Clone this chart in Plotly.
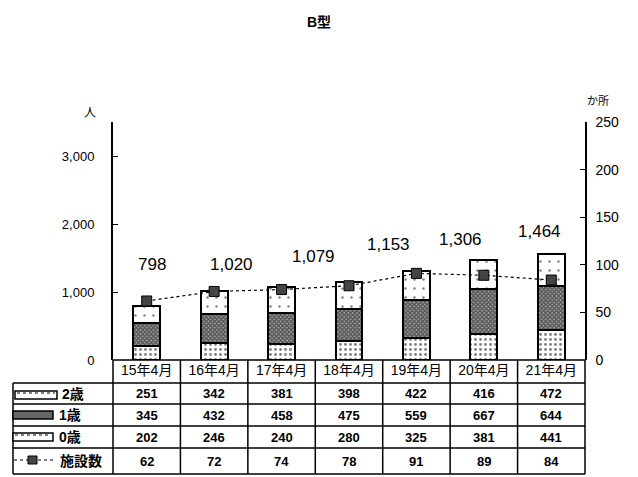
import plotly.graph_objects as go

categories = ["15年4月", "16年4月", "17年4月", "18年4月", "19年4月", "20年4月", "21年4月"]
age0 = [202, 246, 240, 280, 325, 381, 441]
age1 = [345, 432, 458, 475, 559, 667, 644]
age2 = [251, 342, 381, 398, 422, 416, 472]
facilities = [62, 72, 74, 78, 91, 89, 84]
left_ticks = [0, 1000, 2000, 3000]
left_ticktext = ["0", "1,000", "2,000", "3,000"]
right_ticks = [0, 50, 100, 150, 200, 250]

totals = [a + b + c for a, b, c in zip(age0, age1, age2)]
# total labels shown in reference (first six), with their drawn positions
label_pos_x = [0.08, 1.25, 2.47, 3.58, 4.66, 5.83]
label_pos_y = [1400, 1410, 1515, 1705, 1765, 1885]

W, H = 638, 477
OFF = 8  # page body margin offset
L, R, T, B = 113, 585, 122, 360  # target screen pixels of plot area
FONT = "Liberation Sans, Noto Sans CJK JP, sans-serif"


def px(x):
    return (x - L) / (R - L)


def py(y):
    return (B - y) / (B - T)


xs = list(range(len(categories)))
fig = go.Figure()
fig.add_trace(go.Bar(x=xs, y=age0, name="0歳", width=0.4,
                     marker=dict(color="white", line=dict(color="black", width=2),
                                 pattern=dict(shape=".", size=5, solidity=0.25, fgcolor="black", bgcolor="white"))))
fig.add_trace(go.Bar(x=xs, y=age1, name="1歳", width=0.4,
                     marker=dict(color="white", line=dict(color="black", width=2),
                                 pattern=dict(shape="x", size=3, solidity=0.7, fgcolor="black", bgcolor="#aaa"))))
fig.add_trace(go.Bar(x=xs, y=age2, name="2歳", width=0.4,
                     marker=dict(color="white", line=dict(color="black", width=2),
                                 pattern=dict(shape=".", size=9, solidity=0.06, fgcolor="black", bgcolor="white"))))
fig.add_trace(go.Scatter(x=xs, y=facilities, name="施設数", yaxis="y2", mode="lines+markers",
                         line=dict(color="black", width=1.2, dash="dot"),
                         marker=dict(symbol="square", size=10, color="#444", line=dict(color="black", width=1))))

annotations = []
for i in range(6):
    annotations.append(dict(x=label_pos_x[i], y=label_pos_y[i], xref="x", yref="y",
                            xanchor="center", yanchor="middle",
                            text=f"{totals[i]:,}", showarrow=False,
                            font=dict(size=17, color="black", family=FONT)))

# table
rows = [age2, age1, age0, facilities]
row_tops = [383, 404, 426, 448, 474]
for r, vals in enumerate(rows):
    yc = (row_tops[r] + row_tops[r + 1]) / 2
    for i, v in enumerate(vals):
        annotations.append(dict(x=i, y=py(yc), xref="x", yref="paper", text=f"<b>{v}</b>", showarrow=False,
                                xanchor="center", yanchor="middle",
                                font=dict(size=13, color="black", family=FONT)))

row_labels = ["2歳", "1歳", "0歳", "施設数"]
label_x = [60, 57, 57, 58]
for r, t in enumerate(row_labels):
    yc = (row_tops[r] + row_tops[r + 1]) / 2
    annotations.append(dict(x=px(label_x[r]), y=py(yc), xref="paper", yref="paper", text=f"<b>{t}</b>",
                            showarrow=False, xanchor="left", yanchor="middle",
                            font=dict(size=14, color="black", family=FONT)))

annotations += [
    dict(x=px(319), y=py(22), xref="paper", yref="paper", xanchor="center", yanchor="middle",
         text="<b>B型</b>", showarrow=False, font=dict(size=14, color="black", family=FONT)),
    dict(x=px(90), y=py(113), xref="paper", yref="paper", text="人", showarrow=False,
         xanchor="center", yanchor="middle", font=dict(size=12, color="black", family=FONT)),
    dict(x=px(598), y=py(100), xref="paper", yref="paper", text="か所", showarrow=False,
         xanchor="center", yanchor="middle", font=dict(size=11, color="black", family=FONT)),
]

shapes = []
line = dict(color="black", width=1.5)
# horizontal lines of table
shapes.append(dict(type="line", xref="paper", yref="paper", x0=px(L), x1=px(R), y0=py(B), y1=py(B), line=line))
for yv in row_tops:
    shapes.append(dict(type="line", xref="paper", yref="paper", x0=px(13), x1=px(R), y0=py(yv), y1=py(yv), line=line))
# vertical lines
shapes.append(dict(type="line", xref="paper", yref="paper", x0=px(13), x1=px(13), y0=py(383), y1=py(474), line=line))
shapes.append(dict(type="line", xref="paper", yref="paper", x0=px(L), x1=px(L), y0=py(B), y1=py(474), line=line))
shapes.append(dict(type="line", xref="paper", yref="paper", x0=px(R), x1=px(R), y0=py(B), y1=py(474), line=line))
for i in range(len(categories) - 1):
    shapes.append(dict(type="line", xref="x", yref="paper", x0=i + 0.5, x1=i + 0.5, y0=py(B), y1=py(474), line=line))

# legend symbols in table
shapes.append(dict(type="rect", xref="paper", yref="paper", x0=px(15), x1=px(57), y0=py(399), y1=py(391),
                   line=dict(color="black", width=1.5), fillcolor="white"))
shapes.append(dict(type="line", xref="paper", yref="paper", x0=px(17), x1=px(55), y0=py(393), y1=py(393),
                   line=dict(color="black", width=1, dash="dot")))
shapes.append(dict(type="rect", xref="paper", yref="paper", x0=px(13), x1=px(53), y0=py(419), y1=py(411),
                   line=dict(color="black", width=1.5), fillcolor="#666"))
shapes.append(dict(type="rect", xref="paper", yref="paper", x0=px(13), x1=px(53), y0=py(441), y1=py(433),
                   line=dict(color="black", width=1.5), fillcolor="white"))
shapes.append(dict(type="line", xref="paper", yref="paper", x0=px(15), x1=px(51), y0=py(435), y1=py(435),
                   line=dict(color="black", width=1, dash="dot")))
shapes.append(dict(type="line", xref="paper", yref="paper", x0=px(14), x1=px(53), y0=py(460), y1=py(460),
                   line=dict(color="black", width=1.2, dash="dot")))
shapes.append(dict(type="rect", xref="paper", yref="paper", x0=px(28), x1=px(37), y0=py(464), y1=py(456),
                   line=dict(color="black", width=1), fillcolor="#444"))

fig.update_layout(
    width=W, height=H, barmode="stack", showlegend=False,
    paper_bgcolor="white", plot_bgcolor="white",
    margin=dict(l=L - OFF, r=W - (R - OFF), t=T - OFF, b=H - (B - OFF), autoexpand=False),
    font=dict(family=FONT, color="black"),
    xaxis=dict(range=[-0.5, 6.5], tickvals=xs, ticktext=categories, showgrid=False, zeroline=False,
               showline=False, ticks="", automargin=False,
               tickfont=dict(size=14, family=FONT, color="black")),
    yaxis=dict(range=[0, 3500], tickvals=left_ticks, ticktext=left_ticktext, showgrid=False, zeroline=False,
               showline=True, linecolor="black", linewidth=2, ticks="inside", ticklen=5, tickcolor="black",
               ticklabelstandoff=14, automargin=False, tickfont=dict(size=13, family=FONT, color="black")),
    yaxis2=dict(range=[0, 250], tickvals=right_ticks, overlaying="y", side="right", showgrid=False,
                zeroline=False, showline=True, linecolor="black", linewidth=1.5, ticks="inside", ticklen=5,
                tickcolor="black", ticklabelstandoff=6, automargin=False,
                tickfont=dict(size=14, family=FONT, color="black")),
    annotations=annotations, shapes=shapes,
)

fig.write_html("out.html")
